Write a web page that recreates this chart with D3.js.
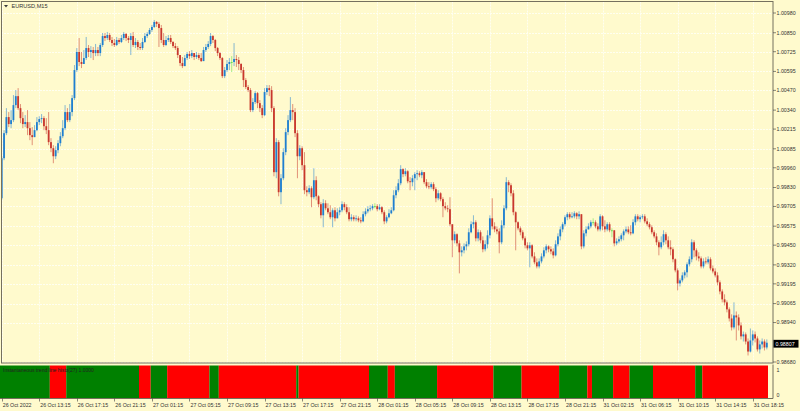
<!DOCTYPE html>
<html lang="en">
<head>
<meta charset="UTF-8">
<title>EURUSD,M15</title>
<script src="https://cdnjs.cloudflare.com/ajax/libs/d3/7.8.5/d3.min.js"></script>
<style>
    body { margin: 0; padding: 0; background: #fffacd; }
    svg { display: block; }
    text { font-family: "Liberation Sans", Arial, sans-serif; fill: #333; }
</style>
</head>
<body>
<svg id="chart" width="800" height="411"></svg>
<script>
// EURUSD M15 bars, 26 Oct 2022 09:15 -> 31 Oct 2022 19:45 (327 bars)
// open of each bar = close of the bar before
var firstOpen = 0.99759;

var closes = [
1.00023,1.00188,1.00294,1.00248,1.00274,1.00373,1.00432,1.00353,1.00287,1.00248,
1.00261,1.00221,1.00175,1.00162,1.00208,1.00261,1.00281,1.00287,1.00234,1.00208,
1.00129,1.00089,1.00036,1.00076,1.00122,1.00168,1.00221,1.00327,1.00274,1.00327,
1.00419,1.00604,1.00723,1.00657,1.00644,1.00683,1.00749,1.00723,1.00736,1.00716,
1.00736,1.00716,1.00769,1.00828,1.00815,1.00835,1.00802,1.00782,1.00769,1.00802,
1.00789,1.00815,1.00842,1.00815,1.00802,1.00828,1.00769,1.00789,1.00756,1.00749,
1.00789,1.00828,1.00842,1.00868,1.00888,1.00921,1.00908,1.00881,1.00802,1.00769,
1.00802,1.00815,1.00789,1.00762,1.00749,1.00703,1.00650,1.00630,1.00683,1.00710,
1.00696,1.00716,1.00690,1.00703,1.00683,1.00663,1.00736,1.00756,1.00776,1.00828,
1.00802,1.00749,1.00716,1.00683,1.00564,1.00604,1.00644,1.00657,1.00657,1.00677,
1.00670,1.00644,1.00604,1.00538,1.00492,1.00472,1.00340,1.00393,1.00452,1.00386,
1.00353,1.00307,1.00459,1.00485,1.00472,1.00353,0.99931,1.00129,0.99799,0.99891,
1.00063,1.00195,1.00274,1.00340,1.00327,1.00188,1.00036,1.00089,0.99977,0.99812,
0.99799,0.99825,0.99766,0.99878,0.99772,0.99720,0.99647,0.99726,0.99693,0.99667,
0.99634,0.99680,0.99627,0.99667,0.99680,0.99720,0.99700,0.99667,0.99621,0.99634,
0.99621,0.99627,0.99614,0.99607,0.99654,0.99673,0.99687,0.99693,0.99707,0.99707,
0.99687,0.99700,0.99667,0.99607,0.99634,0.99660,0.99680,0.99779,0.99812,0.99858,
0.99951,0.99918,0.99937,0.99871,0.99865,0.99891,0.99918,0.99924,0.99911,0.99931,
0.99865,0.99838,0.99832,0.99852,0.99819,0.99759,0.99792,0.99753,0.99707,0.99693,
0.99687,0.99588,0.99482,0.99522,0.99462,0.99403,0.99416,0.99442,0.99456,0.99535,
0.99588,0.99601,0.99495,0.99535,0.99482,0.99423,0.99456,0.99515,0.99627,0.99574,
0.99554,0.99541,0.99469,0.99581,0.99693,0.99865,0.99845,0.99792,0.99667,0.99601,
0.99561,0.99535,0.99495,0.99449,0.99429,0.99449,0.99376,0.99337,0.99310,0.99343,
0.99376,0.99416,0.99442,0.99423,0.99409,0.99383,0.99456,0.99508,0.99554,0.99588,
0.99634,0.99654,0.99634,0.99640,0.99660,0.99640,0.99654,0.99442,0.99528,0.99554,
0.99574,0.99601,0.99601,0.99574,0.99554,0.99640,0.99574,0.99554,0.99588,0.99548,
0.99548,0.99462,0.99475,0.99489,0.99515,0.99541,0.99554,0.99535,0.99528,0.99601,
0.99640,0.99621,0.99634,0.99640,0.99607,0.99588,0.99568,0.99535,0.99508,0.99469,
0.99436,0.99469,0.99522,0.99482,0.99436,0.99423,0.99357,0.99284,0.99198,0.99218,
0.99251,0.99271,0.99324,0.99357,0.99469,0.99416,0.99376,0.99363,0.99310,0.99343,
0.99337,0.99357,0.99297,0.99277,0.99251,0.99205,0.99145,0.99093,0.99073,0.99027,
0.98967,0.98908,0.98987,0.98974,0.98921,0.98849,0.98862,0.98815,0.98749,0.98822,
0.98862,0.98835,0.98763,0.98796,0.98815,0.98776,0.98807
];

var highs = [
1.00036,1.00208,1.00353,1.00327,1.00340,1.00439,1.00472,1.00485,1.00380,1.00327,
1.00307,1.00340,1.00261,1.00228,1.00241,1.00294,1.00300,1.00314,1.00300,1.00287,
1.00327,1.00155,1.00109,1.00102,1.00142,1.00195,1.00274,1.00373,1.00353,1.00380,
1.00439,1.00637,1.00749,1.00815,1.00723,1.00736,1.00822,1.00769,1.00762,1.00756,
1.00776,1.00756,1.00782,1.00848,1.00848,1.00855,1.00848,1.00822,1.00809,1.00822,
1.00815,1.00835,1.00855,1.00848,1.00828,1.00848,1.00855,1.00815,1.00802,1.00782,
1.00815,1.00848,1.00855,1.00881,1.00901,1.00934,1.00927,1.00921,1.00901,1.00848,
1.00828,1.00835,1.00835,1.00795,1.00782,1.00762,1.00703,1.00690,1.00703,1.00723,
1.00729,1.00736,1.00716,1.00723,1.00716,1.00716,1.00756,1.00776,1.00795,1.00848,
1.00835,1.00809,1.00756,1.00723,1.00690,1.00624,1.00670,1.00683,1.00696,1.00782,
1.00703,1.00690,1.00650,1.00624,1.00551,1.00505,1.00485,1.00419,1.00465,1.00459,
1.00406,1.00373,1.00485,1.00505,1.00505,1.00498,1.00366,1.00155,1.00142,0.99918,
1.00089,1.00221,1.00307,1.00426,1.00380,1.00353,1.00208,1.00109,1.00102,1.00063,
0.99838,0.99845,0.99838,0.99957,0.99904,0.99779,0.99733,0.99753,0.99746,0.99726,
0.99713,0.99693,0.99700,0.99693,0.99700,0.99739,0.99733,0.99720,0.99700,0.99654,
0.99647,0.99647,0.99640,0.99634,0.99673,0.99693,0.99707,0.99713,0.99720,0.99726,
0.99720,0.99720,0.99707,0.99680,0.99647,0.99687,0.99700,0.99812,0.99838,0.99885,
0.99977,0.99957,0.99957,0.99944,0.99898,0.99911,0.99931,0.99944,0.99937,0.99944,
0.99931,0.99885,0.99865,0.99865,0.99865,0.99832,0.99812,0.99799,0.99766,0.99733,
0.99713,0.99766,0.99581,0.99541,0.99528,0.99482,0.99442,0.99462,0.99475,0.99561,
0.99607,0.99647,0.99614,0.99554,0.99548,0.99508,0.99482,0.99548,0.99647,0.99759,
0.99601,0.99574,0.99561,0.99614,0.99713,0.99898,0.99878,0.99858,0.99812,0.99673,
0.99607,0.99574,0.99548,0.99508,0.99469,0.99469,0.99456,0.99403,0.99363,0.99363,
0.99396,0.99436,0.99456,0.99449,0.99442,0.99429,0.99482,0.99528,0.99574,0.99601,
0.99647,0.99667,0.99667,0.99667,0.99673,0.99667,0.99673,0.99654,0.99548,0.99574,
0.99594,0.99614,0.99627,0.99614,0.99594,0.99654,0.99647,0.99614,0.99601,0.99601,
0.99561,0.99548,0.99495,0.99508,0.99528,0.99554,0.99574,0.99574,0.99581,0.99621,
0.99654,0.99654,0.99647,0.99654,0.99654,0.99627,0.99601,0.99581,0.99548,0.99528,
0.99482,0.99508,0.99548,0.99535,0.99508,0.99482,0.99436,0.99363,0.99297,0.99231,
0.99271,0.99284,0.99337,0.99376,0.99489,0.99482,0.99429,0.99403,0.99376,0.99363,
0.99370,0.99376,0.99370,0.99317,0.99297,0.99271,0.99218,0.99159,0.99126,0.99086,
0.99040,0.98994,0.99073,0.99013,0.98994,0.98941,0.98881,0.98875,0.98835,0.98901,
0.98888,0.98881,0.98849,0.98822,0.98835,0.98829,0.98829
];

var lows = [
0.99746,1.00010,1.00175,1.00228,1.00221,1.00261,1.00353,1.00340,1.00254,1.00221,
1.00228,1.00175,1.00142,1.00109,1.00162,1.00201,1.00241,1.00254,1.00208,1.00182,
1.00109,1.00063,0.99990,1.00017,1.00056,1.00102,1.00155,1.00208,1.00261,1.00261,
1.00300,1.00406,1.00591,1.00630,1.00617,1.00644,1.00670,1.00690,1.00683,1.00670,
1.00696,1.00696,1.00696,1.00756,1.00795,1.00802,1.00789,1.00762,1.00756,1.00762,
1.00776,1.00782,1.00802,1.00795,1.00782,1.00703,1.00756,1.00749,1.00736,1.00736,
1.00736,1.00782,1.00815,1.00835,1.00855,1.00881,1.00888,1.00756,1.00782,1.00756,
1.00762,1.00789,1.00776,1.00749,1.00736,1.00683,1.00630,1.00617,1.00630,1.00670,
1.00677,1.00683,1.00670,1.00677,1.00670,1.00657,1.00683,1.00723,1.00743,1.00762,
1.00782,1.00729,1.00696,1.00670,1.00551,1.00551,1.00591,1.00604,1.00591,1.00630,
1.00624,1.00604,1.00584,1.00492,1.00479,1.00459,1.00327,1.00327,1.00380,1.00353,
1.00327,1.00287,1.00300,1.00439,1.00432,1.00327,0.99904,0.99891,0.99772,0.99720,
0.99878,1.00043,1.00175,1.00261,1.00274,1.00162,0.99891,1.00010,0.99944,0.99786,
0.99772,0.99786,0.99700,0.99753,0.99746,0.99700,0.99627,0.99568,0.99680,0.99654,
0.99621,0.99568,0.99607,0.99627,0.99647,0.99667,0.99680,0.99654,0.99607,0.99607,
0.99607,0.99607,0.99601,0.99594,0.99601,0.99640,0.99660,0.99673,0.99680,0.99693,
0.99673,0.99680,0.99654,0.99588,0.99594,0.99627,0.99654,0.99673,0.99759,0.99799,
0.99845,0.99898,0.99904,0.99858,0.99812,0.99838,0.99812,0.99878,0.99898,0.99891,
0.99852,0.99825,0.99819,0.99819,0.99806,0.99733,0.99746,0.99739,0.99634,0.99680,
0.99667,0.99574,0.99370,0.99462,0.99442,0.99264,0.99376,0.99396,0.99416,0.99442,
0.99528,0.99561,0.99475,0.99475,0.99462,0.99403,0.99409,0.99429,0.99495,0.99554,
0.99535,0.99522,0.99396,0.99456,0.99561,0.99680,0.99799,0.99772,0.99647,0.99416,
0.99548,0.99515,0.99482,0.99429,0.99416,0.99304,0.99363,0.99324,0.99297,0.99297,
0.99330,0.99363,0.99396,0.99403,0.99390,0.99363,0.99376,0.99442,0.99482,0.99535,
0.99574,0.99614,0.99621,0.99627,0.99627,0.99621,0.99621,0.99423,0.99429,0.99508,
0.99554,0.99561,0.99581,0.99561,0.99541,0.99541,0.99548,0.99535,0.99541,0.99535,
0.99502,0.99442,0.99449,0.99462,0.99475,0.99482,0.99528,0.99522,0.99515,0.99522,
0.99581,0.99607,0.99601,0.99621,0.99594,0.99574,0.99554,0.99522,0.99495,0.99449,
0.99383,0.99423,0.99449,0.99456,0.99423,0.99383,0.99337,0.99271,0.99152,0.99178,
0.99205,0.99231,0.99238,0.99310,0.99337,0.99370,0.99350,0.99343,0.99297,0.99297,
0.99324,0.99324,0.99284,0.99264,0.99238,0.99185,0.99126,0.99073,0.99053,0.99007,
0.98947,0.98888,0.98895,0.98822,0.98888,0.98829,0.98815,0.98796,0.98723,0.98743,
0.98789,0.98809,0.98749,0.98736,0.98769,0.98756,0.98763
];

var priceTicks = [1.00980, 1.00850, 1.00725, 1.00595, 1.00470, 1.00340, 1.00215, 1.00085,
    0.99960, 0.99830, 0.99705, 0.99575, 0.99450, 0.99320, 0.99195, 0.99065, 0.98940, 0.98680];
var currentPrice = 0.98807;

// one time label every 16 bars
var timeLabels = ["26 Oct 2022", "26 Oct 13:15", "26 Oct 17:15", "26 Oct 21:15", "27 Oct 01:15",
    "27 Oct 05:15", "27 Oct 09:15", "27 Oct 13:15", "27 Oct 17:15", "27 Oct 21:15", "28 Oct 01:15",
    "28 Oct 05:15", "28 Oct 09:15", "28 Oct 13:15", "28 Oct 17:15", "28 Oct 21:15", "31 Oct 02:15",
    "31 Oct 06:15", "31 Oct 10:15", "31 Oct 14:15", "31 Oct 18:15"];
var labelEvery = 16;

// trend histogram: bar index where the colour flips, first run is up (green)
var trendFlips = [0, 21, 28, 59, 64, 71, 89, 93, 126, 127, 157, 165, 168, 186, 210, 222,
    238, 250, 252, 261, 268, 278, 296, 299];
var histoLevels = [0, 1];

var bg = "#fffacd",
    fg = "#3a3a3a",
    frame = "#75705e",
    bull = "#1f7fd0",
    bear = "#c8372d",
    doji = "#5ee04a";

var svg = d3.select("#chart");
var W = 800, H = 411;
var plotL = 1, plotR = 773, plotT = 1.5, plotB = 363;
var subT = 365.5, subB = 398.5;

svg.append("rect").attr("width", W).attr("height", H).attr("fill", bg);

var n = closes.length;
var step = 2.347;
var x = d3.scaleLinear().domain([0, n - 1]).range([1.7, 1.7 + (n - 1) * step]);
var y = d3.scaleLinear().domain([0.98680, 1.00980]).range([362, 13]);
var yh = d3.scaleLinear().domain([0, 1]).range([subB, subT]);

var bars = closes.map(function(c, i) {
    var o = i === 0 ? firstOpen : closes[i - 1];
    return { i: i, o: o, h: highs[i], l: lows[i], c: c };
});

// grid
var grid = svg.append("g").attr("stroke", "#fffff0").attr("stroke-width", 1)
    .attr("stroke-dasharray", "2,1");
grid.selectAll("line.h").data(priceTicks).enter().append("line")
    .attr("x1", plotL).attr("x2", plotR)
    .attr("y1", function(d) { return Math.round(y(d)) + 0.5; })
    .attr("y2", function(d) { return Math.round(y(d)) + 0.5; });
grid.selectAll("line.v").data(timeLabels).enter().append("line")
    .attr("x1", function(d, k) { return Math.round(x(k * labelEvery)) + 0.5; })
    .attr("x2", function(d, k) { return Math.round(x(k * labelEvery)) + 0.5; })
    .attr("y1", plotT).attr("y2", plotB);

// candles
svg.append("clipPath").attr("id", "clip").append("rect")
    .attr("x", plotL).attr("y", plotT).attr("width", plotR - plotL).attr("height", plotB - plotT);
var candles = svg.append("g").attr("clip-path", "url(#clip)");

function colorOf(d) { return d.c > d.o ? bull : (d.c < d.o ? bear : doji); }

candles.selectAll("line.wick").data(bars).enter().append("line")
    .attr("x1", function(d) { return x(d.i); })
    .attr("x2", function(d) { return x(d.i); })
    .attr("y1", function(d) { return y(Math.max(d.h, d.o, d.c)); })
    .attr("y2", function(d) { return y(Math.min(d.l, d.o, d.c)); })
    .attr("stroke", colorOf)
    .attr("stroke-opacity", 0.6)
    .attr("stroke-width", 0.9);

candles.selectAll("rect.body").data(bars).enter().append("rect")
    .attr("x", function(d) { return x(d.i) - 0.9; })
    .attr("width", 1.8)
    .attr("y", function(d) { return y(Math.max(d.o, d.c)); })
    .attr("height", function(d) { return Math.max(0.9, Math.abs(y(d.o) - y(d.c))); })
    .attr("fill", colorOf);

// main frame
svg.append("rect").attr("x", plotL + 0.5).attr("y", plotT).attr("width", plotR - plotL - 0.5)
    .attr("height", plotB - plotT).attr("fill", "none").attr("stroke", frame).attr("stroke-width", 1);

// title
svg.append("path").attr("d", "M4,5 L8,5 L6,7.5 Z").attr("fill", fg);
svg.append("text").attr("x", 11.5).attr("y", 8.2).attr("font-size", 5.6).text("EURUSD,M15");

// price axis
svg.append("g").selectAll("line").data(priceTicks).enter().append("line")
    .attr("x1", plotR).attr("x2", plotR + 3)
    .attr("y1", function(d) { return y(d); }).attr("y2", function(d) { return y(d); })
    .attr("stroke", fg).attr("stroke-width", 0.6);
svg.append("g").selectAll("text").data(priceTicks).enter().append("text")
    .attr("x", plotR + 3.5).attr("y", function(d) { return y(d) + 1.9; })
    .attr("font-size", 5.3)
    .text(function(d) { return d3.format(".5f")(d); });

var cy = y(currentPrice) + 1;
svg.append("rect").attr("x", plotR + 0.5).attr("y", cy - 3.9).attr("width", 25).attr("height", 7.8)
    .attr("fill", "#000");
svg.append("text").attr("x", plotR + 2.5).attr("y", cy + 1.9).attr("font-size", 5.3)
    .style("fill", "#fff").text(d3.format(".5f")(currentPrice));

// trend histogram sub window, one block per run of same colour
var runs = trendFlips.map(function(s, k) {
    var e = k + 1 < trendFlips.length ? trendFlips[k + 1] : n;
    return { s: s, e: e, up: k % 2 === 0 };
});
svg.append("g").selectAll("rect").data(runs).enter().append("rect")
    .attr("x", function(d) { return d.s === 0 ? 0 : x(d.s) - step / 2; })
    .attr("width", function(d) { return x(d.e) - step / 2 - (d.s === 0 ? 0 : x(d.s) - step / 2); })
    .attr("y", yh(1))
    .attr("height", yh(0) - yh(1))
    .attr("fill", function(d) { return d.up ? "#008000" : "#ff0000"; });

svg.append("line").attr("x1", 0).attr("x2", plotR).attr("y1", subB).attr("y2", subB)
    .attr("stroke", frame).attr("stroke-width", 1);
svg.append("line").attr("x1", plotR).attr("x2", plotR).attr("y1", subT - 1).attr("y2", subB)
    .attr("stroke", frame).attr("stroke-width", 1);
svg.append("text").attr("x", 3).attr("y", 372).attr("font-size", 5).style("fill", "#222")
    .text("Instantaneous trend line histo(27) 1.0000");

svg.append("g").selectAll("text").data(histoLevels).enter().append("text")
    .attr("x", plotR + 3.5)
    .attr("y", function(d) { return d === 1 ? yh(d) + 6 : yh(d) - 2; })
    .attr("font-size", 5.3)
    .text(function(d) { return d; });

// time axis
var tx = svg.append("g");
tx.selectAll("line").data(timeLabels).enter().append("line")
    .attr("x1", function(d, k) { return Math.round(x(k * labelEvery)) + 0.5; })
    .attr("x2", function(d, k) { return Math.round(x(k * labelEvery)) + 0.5; })
    .attr("y1", subB).attr("y2", subB + 3)
    .attr("stroke", fg).attr("stroke-width", 0.6);
tx.selectAll("text").data(timeLabels).enter().append("text")
    .attr("x", function(d, k) { return x(k * labelEvery) + 1; })
    .attr("y", 407)
    .attr("font-size", 5.3)
    .text(function(d) { return d; });
</script>
</body>
</html>
